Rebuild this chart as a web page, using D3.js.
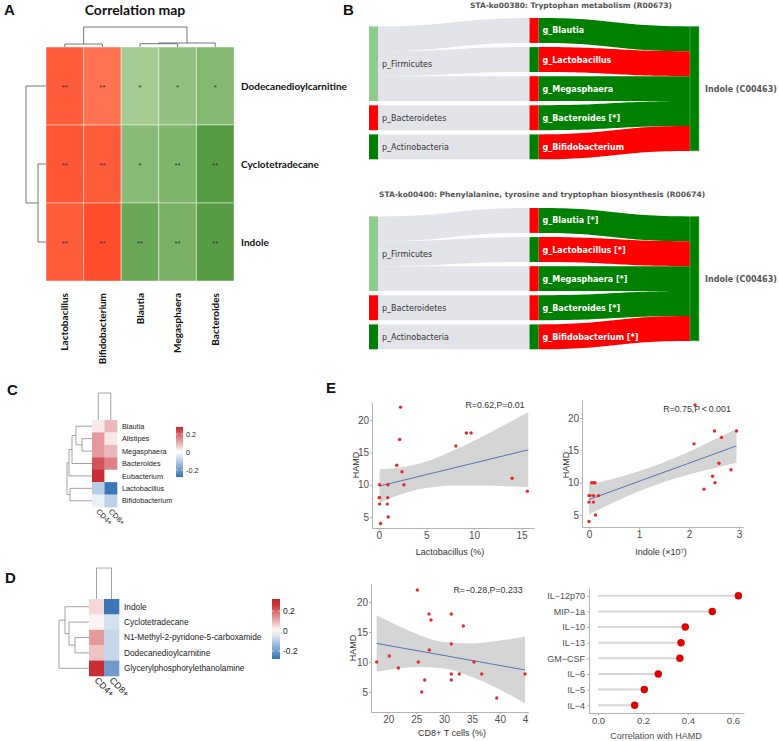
<!DOCTYPE html>
<html>
<head>
<meta charset="utf-8">
<script src="https://cdn.jsdelivr.net/npm/d3@7/dist/d3.min.js"></script>
<style>
html,body{margin:0;padding:0;background:#fff;}
svg{display:block;}
</style>
</head>
<body>
<svg id="fig" width="779" height="741"></svg>
<script>
// ================= DATA =================
// Panel A: correlation map
const aCols = ["Lactobacillus","Bifidobacterium","Blautia","Megasphaera","Bacteroides"];
const aRows = ["Dodecanedioylcarnitine","Cyclotetradecane","Indole"];
const aCorr = [
  [0.66, 0.57, -0.42, -0.50, -0.57],
  [0.68, 0.66, -0.55, -0.60, -0.80],
  [0.66, 0.72, -0.70, -0.63, -0.79]
];
const aStars = [
  ["**","**","*","*","*"],
  ["**","**","*","**","**"],
  ["**","**","**","**","**"]
];
const aRowTree = {h:20, c:[0, {h:8, c:[1,2]}]};
const aColTree = {h:20, c:[{h:3, c:[0,1]}, {h:4, c:[{h:3.3, c:[2,3]}, 4]}]};

// Panel B: sankey diagrams
const phyla = ["p_Firmicutes","p_Bacteroidetes","p_Actinobacteria"];
const phylaColor = ["#8fcc8b","#ff0000","#008000"];
const genusParent = [0,0,0,1,2];
const genusFlow = [1,1,1,1,1];
const genusNodeColor = ["#ff0000","#008000","#ff0000","#ff0000","#008000"];
const genusLinkColor = ["#008000","#ff0000","#008000","#008000","#ff0000"];
const sankeyTopTitle = "STA-ko00380: Tryptophan metabolism (R00673)";
const sankeyTopGenera = ["g_Blautia","g_Lactobacillus","g_Megasphaera","g_Bacteroides [*]","g_Bifidobacterium"];
const sankeyBotTitle = "STA-ko00400: Phenylalanine, tyrosine and tryptophan biosynthesis (R00674)";
const sankeyBotGenera = ["g_Blautia [*]","g_Lactobacillus [*]","g_Megasphaera [*]","g_Bacteroides [*]","g_Bifidobacterium [*]"];
const sankeyTarget = "Indole (C00463)";

// Panels C / D: T cell heatmaps
const tCols = ["CD4+","CD8+"];
const cRows = ["Blautia","Alistipes","Megasphaera","Bacteroides","Eubacterium","Lactobacillus","Bifidobacterium"];
const cVals = [[0.03,0.09],[0.13,0.03],[0.13,0.09],[0.22,0.16],[0.27,0.0],[-0.10,-0.27],[-0.03,-0.09]];
const cRowTree = {h:25, c:[{h:23, c:[{h:20, c:[{h:16, c:[0, {h:10, c:[1,2]}]}, 3]}, 4]}, {h:22, c:[5,6]}]};
const cColTree = {h:27, c:[0,1]};
const dRows = ["Indole","Cyclotetradecane","N1-Methyl-2-pyridone-5-carboxamide","Dodecanedioylcarnitine","Glycerylphosphorylethanolamine"];
const dVals = [[0.05,-0.27],[0.015,-0.06],[0.13,-0.08],[0.08,-0.08],[0.27,-0.20]];
const dRowTree = {h:30, c:[{h:24, c:[0, {h:20, c:[1, {h:14, c:[2,3]}]}]}, 4]};
const dColTree = {h:31, c:[0,1]};
const legendTicks = [0.2, 0, -0.2];

// Panel E: scatter plots
const lactoX = [2.3,2.2,1.9,2.45,2.65,0.98,0.1,0.1,0.05,0.95,0.1,0.9,1.0,0.2,8.1,9.2,9.7,14.0,15.6];
const lactoY = [22,17,13,12,10,10,10,8,8,8,7,7,5,4,16,18,18,11,9];
const lactoFitX = [0.1,15.7], lactoFitY = [9.8,15.4];
const lactoBandX  = [0.1,2,4,6,8,10,12,14,15.7];
const lactoBandLo = [7.2,8.34,9.22,9.7,9.88,9.89,9.83,9.72,9.6];
const lactoBandHi = [12.4,12.62,13.18,14.14,15.4,16.81,18.31,19.86,21.2];

const indoleX = [2.12,2.51,2.95,2.65,2.1,2.6,2.84,2.47,2.52,2.3,0.05,0.09,0.12,0,0.02,0.09,0.19,0,0.09,0.13,0];
const indoleY = [22,18,18,17,16,13,12,11,10,9,10,10,10,8,8,8,8,7,7,5,4];
const indoleFitX = [0,2.95], indoleFitY = [7.4,15.69];
const indoleBandX  = [0,0.5,1,1.5,2,2.5,2.95];
const indoleBandLo = [5.1,6.96,8.66,10.1,11.25,12.23,13.09];
const indoleBandHi = [9.7,10.64,11.76,13.14,14.79,16.63,18.29];

const cd8X = [17.92,20.18,21.79,25.2,25.38,25.99,26.52,27.29,27.65,27.35,31.29,31.29,31.29,31.29,32.72,33.44,35.36,36.74,39.43,44.5];
const cd8Y = [10,11,9,22,10,5,7,18,17,12,18,13,8,7,8,16,10,8,4,8];
const cd8FitX = [17.92,44.5], cd8FitY = [13.1,8.67];
const cd8BandX  = [17.92,20,25,30,35,40,44.5];
const cd8BandLo = [8.4,8.68,9.15,8.92,7.51,5.41,3.07];
const cd8BandHi = [17.8,16.84,14.73,13.32,13.09,13.57,14.27];

const cytokines = ["IL\u221212p70","MIP\u22121a","IL\u221210","IL\u221213","GM\u2212CSF","IL\u22126","IL\u22125","IL\u22124"];
const cytokineR = [0.624,0.508,0.388,0.369,0.364,0.268,0.206,0.163];

// ================= DRAWING =================
const SANS = "'Liberation Sans', Arial, sans-serif";
const svg = d3.select("#fig");
const defs = svg.append("defs");

// panel letters
[["A",4,15],["B",343,15],["C",7,395],["D",5,583],["E",326,393]].forEach(([t,x,y]) => {
  svg.append("text").attr("x",x).attr("y",y).text(t)
    .attr("font-family",SANS).attr("font-weight","bold").attr("font-size",15).attr("fill","#111");
});

function dendro(g, tree, leafPos, hPos, orient, color, width) {
  const p = d3.path();
  const pt = (pos,h) => orient === "top" ? [pos, hPos(h)] : [hPos(h), pos];
  function rec(n) {
    if (typeof n === "number") return {pos: leafPos(n), h: 0};
    const kids = n.c.map(rec);
    kids.forEach(k => { const a = pt(k.pos,k.h), b = pt(k.pos,n.h); p.moveTo(a[0],a[1]); p.lineTo(b[0],b[1]); });
    const a = pt(kids[0].pos, n.h), b = pt(kids[kids.length-1].pos, n.h);
    p.moveTo(a[0],a[1]); p.lineTo(b[0],b[1]);
    return {pos: (kids[0].pos + kids[kids.length-1].pos)/2, h: n.h};
  }
  rec(tree);
  g.append("path").attr("d", p.toString()).attr("fill","none").attr("stroke",color).attr("stroke-width",width);
}

// ---------- Panel A ----------
(function(){
  const g = svg.append("g");
  const x = d3.scaleBand().domain(aCols).range([46,234]);
  const y = d3.scaleBand().domain(aRows).range([47,281]);
  const redS = d3.scaleLinear().domain([0.5,0.75]).range(["#ff8464","#ff4624"]).clamp(true);
  const greenS = d3.scaleLinear().domain([-0.4,-0.8]).range(["#a9cd97","#559b42"]).clamp(true);
  aRows.forEach((r,i) => aCols.forEach((c,j) => {
    const v = aCorr[i][j];
    g.append("rect").attr("x",x(c)).attr("y",y(r)).attr("width",x.bandwidth()).attr("height",y.bandwidth())
      .attr("fill", v > 0 ? redS(v) : greenS(v))
      .attr("stroke","rgba(255,255,255,0.45)").attr("stroke-width",1);
    g.append("text").attr("x",x(c)+x.bandwidth()/2).attr("y",y(r)+y.bandwidth()/2+4)
      .attr("text-anchor","middle").attr("font-family",SANS).attr("font-size",8).attr("fill","#333")
      .text(aStars[i][j]);
  }));
  g.append("text").attr("x",135).attr("y",14.5).attr("text-anchor","middle")
    .attr("font-family","Lato, 'Open Sans', sans-serif").attr("font-weight","bold").attr("font-size",14).attr("fill","#111")
    .text("Correlation map");
  aRows.forEach(r => g.append("text").attr("x",241).attr("y",y(r)+y.bandwidth()/2+3.5)
    .attr("font-family","Lato, 'Open Sans', sans-serif").attr("font-weight","bold").attr("font-size",10).attr("fill","#111").text(r));
  aCols.forEach(c => g.append("text")
    .attr("transform",`translate(${x(c)+x.bandwidth()/2+3.5},293) rotate(-90)`).attr("text-anchor","end")
    .attr("font-family","Lato, 'Open Sans', sans-serif").attr("font-weight","bold").attr("font-size",10).attr("fill","#111").text(c));
  dendro(g, aColTree, j => x(aCols[j])+x.bandwidth()/2, h => 47-h, "top", "#666", 0.9);
  dendro(g, aRowTree, i => y(aRows[i])+y.bandwidth()/2, h => 46-h, "left", "#666", 0.9);
})();

// ---------- Panel B ----------
function ribbon(x0,y0,x1,y1,h) {
  const xm = (x0+x1)/2, p = d3.path();
  p.moveTo(x0,y0); p.bezierCurveTo(xm,y0,xm,y1,x1,y1);
  p.lineTo(x1,y1+h); p.bezierCurveTo(xm,y1+h,xm,y0+h,x0,y0+h); p.closePath();
  return p.toString();
}
function sankey(title, genera, y0, titleX, titleY, anchor) {
  const g = svg.append("g");
  const u = 24.9, gap = 4.2, nw = 9;
  const hv = d3.scaleLinear().domain([0,1]).range([0,u]);
  const col = d3.scalePoint().domain(["phylum","genus","target"]).range([369,690]);
  const gy = []; let acc = y0;
  genusFlow.forEach(f => { gy.push(acc); acc += hv(f) + gap; });
  const spanEnd = acc - gap;
  const ph = phyla.map((p,k) => {
    const kids = genusParent.map((par,i) => par === k ? i : -1).filter(i => i >= 0);
    const val = d3.sum(kids, i => genusFlow[i]);
    const last = kids[kids.length-1];
    const bottom = gy[last] + hv(genusFlow[last]);
    return {y: bottom - hv(val), h: hv(val), kids};
  });
  const tot = d3.sum(genusFlow);
  const ty = (y0 + spanEnd)/2 - hv(tot)/2;
  ph.forEach(p => {
    let off = p.y;
    p.kids.forEach(i => {
      g.append("path").attr("d", ribbon(col("phylum")+nw, off, col("genus"), gy[i], hv(genusFlow[i]))).attr("fill","#e2e4e9");
      off += hv(genusFlow[i]);
    });
  });
  let off = ty;
  genusFlow.forEach((f,i) => {
    g.append("path").attr("d", ribbon(col("genus")+nw, gy[i], col("target"), off, hv(f))).attr("fill", genusLinkColor[i]);
    off += hv(f);
  });
  ph.forEach((p,k) => {
    g.append("rect").attr("x",col("phylum")).attr("y",p.y).attr("width",nw).attr("height",p.h).attr("fill",phylaColor[k]);
    g.append("text").attr("x",col("phylum")+nw+4).attr("y",p.y+p.h/2+3)
      .attr("font-family","'DejaVu Sans', Verdana, sans-serif").attr("font-size",8).attr("fill","#333").text(phyla[k]);
  });
  genusFlow.forEach((f,i) => {
    g.append("rect").attr("x",col("genus")).attr("y",gy[i]).attr("width",nw).attr("height",hv(f)).attr("fill",genusNodeColor[i]);
    g.append("text").attr("x",col("genus")+nw+4).attr("y",gy[i]+hv(f)/2+3)
      .attr("font-family","'DejaVu Sans', Verdana, sans-serif").attr("font-weight","bold").attr("font-size",8).attr("fill","#fff").text(genera[i]);
  });
  g.append("rect").attr("x",col("target")).attr("y",ty).attr("width",nw).attr("height",hv(tot))
    .attr("fill","#008000").attr("stroke","#63b363").attr("stroke-width",0.6);
  g.append("text").attr("x",col("target")+nw+6).attr("y",ty+hv(tot)/2+3)
    .attr("font-family","'DejaVu Sans', Verdana, sans-serif").attr("font-weight","bold").attr("font-size",8).attr("fill","#555").text(sankeyTarget);
  g.append("text").attr("x",titleX).attr("y",titleY).attr("text-anchor",anchor)
    .attr("font-family","'DejaVu Sans', Verdana, sans-serif").attr("font-weight","bold").attr("font-size",7.5).attr("fill","#555").text(title);
}
sankey(sankeyTopTitle, sankeyTopGenera, 18, 571, 7.5, "middle");
sankey(sankeyBotTitle, sankeyBotGenera, 208, 379, 196.5, "start");

// ---------- Panels C / D ----------
const hmColor = d3.scaleDiverging(d3.piecewise(d3.interpolateRgb, ["#3672b5","#ffffff","#c5252c"])).domain([-0.28,0,0.28]).clamp(true);
function tHeatmap(rows, vals, rowTree, colTree, x0, x1, y0, y1, labFs, colFs, leg) {
  const g = svg.append("g");
  const x = d3.scaleBand().domain(tCols).range([x0,x1]);
  const y = d3.scaleBand().domain(rows).range([y0,y1]);
  rows.forEach((r,i) => tCols.forEach((c,j) => {
    g.append("rect").attr("x",x(c)).attr("y",y(r)).attr("width",x.bandwidth()+0.3).attr("height",y.bandwidth()+0.3)
      .attr("fill",hmColor(vals[i][j]));
  }));
  rows.forEach(r => g.append("text").attr("x",x1+5).attr("y",y(r)+y.bandwidth()/2+labFs*0.36)
    .attr("font-family",SANS).attr("font-size",labFs).attr("fill","#222").text(r));
  tCols.forEach(c => g.append("text")
    .attr("transform",`translate(${x(c)+x.bandwidth()/2-2.5},${y1+5}) rotate(45)`)
    .attr("font-family",SANS).attr("font-size",colFs).attr("fill","#222").text(c));
  dendro(g, rowTree, i => y(rows[i])+y.bandwidth()/2, h => x0-h, "left", "#8a8a8a", 0.8);
  dendro(g, colTree, j => x(tCols[j])+x.bandwidth()/2, h => y0-h, "top", "#8a8a8a", 0.8);
  const id = "grad" + leg.id;
  const gr = defs.append("linearGradient").attr("id",id).attr("x1",0).attr("y1",0).attr("x2",0).attr("y2",1);
  d3.range(0,1.0001,0.1).forEach(t => gr.append("stop").attr("offset",t)
    .attr("stop-color",hmColor(leg.vTop + (leg.vBot-leg.vTop)*t)));
  g.append("rect").attr("x",leg.x).attr("y",leg.y0).attr("width",leg.w).attr("height",leg.y1-leg.y0).attr("fill",`url(#${id})`);
  const ls = d3.scaleLinear().domain([leg.vTop,leg.vBot]).range([leg.y0,leg.y1]);
  legendTicks.forEach(t => {
    g.append("line").attr("x1",leg.x).attr("x2",leg.x+2).attr("y1",ls(t)).attr("y2",ls(t)).attr("stroke","#fff").attr("stroke-width",0.6);
    g.append("line").attr("x1",leg.x+leg.w-2).attr("x2",leg.x+leg.w).attr("y1",ls(t)).attr("y2",ls(t)).attr("stroke","#fff").attr("stroke-width",0.6);
    g.append("text").attr("x",leg.x+leg.w+3).attr("y",ls(t)+leg.fs*0.36)
      .attr("font-family",SANS).attr("font-size",leg.fs).attr("fill","#222").text(t === 0 ? "0" : d3.format(".1f")(t).replace("\u2212","-"));
  });
}
tHeatmap(cRows, cVals, cRowTree, cColTree, 92, 117, 420, 507, 7.3, 7.5,
  {id:"C", x:176, y0:427, y1:477, w:7, vTop:0.278, vBot:-0.278, fs:7.3});
tHeatmap(dRows, dVals, dRowTree, dColTree, 89, 119, 599, 676, 8.3, 9,
  {id:"D", x:272, y0:599, y1:659, w:8, vTop:0.32, vBot:-0.28, fs:8.5});

// ---------- Panel E ----------
function styleAxis(sel, fs) {
  sel.attr("font-family",SANS).attr("font-size",fs);
  sel.select(".domain").attr("stroke","#b3b3b3");
  sel.selectAll(".tick line").attr("stroke","#b3b3b3");
  sel.selectAll(".tick text").attr("fill","#4d4d4d");
}
function scatter(o) {
  const g = svg.append("g");
  if (o.clip) {
    defs.append("clipPath").attr("id",o.clipId).append("rect").attr("x",0).attr("y",0).attr("width",o.clip).attr("height",741);
    g.attr("clip-path",`url(#${o.clipId})`);
  }
  const x = d3.scaleLinear().domain(o.xd).range(o.xr);
  const y = d3.scaleLinear().domain(o.yd).range(o.yr);
  const area = d3.area().x((d,i) => x(o.bx[i])).y0((d,i) => y(o.blo[i])).y1((d,i) => y(o.bhi[i])).curve(d3.curveMonotoneX);
  g.append("path").datum(o.bx).attr("d",area).attr("fill","#d5d5d5");
  g.append("line").attr("x1",x(o.fx[0])).attr("y1",y(o.fy[0])).attr("x2",x(o.fx[1])).attr("y2",y(o.fy[1]))
    .attr("stroke","#4b68b8").attr("stroke-width",0.9);
  const xa = g.append("g").attr("transform",`translate(0,${o.yr[0]})`)
    .call(d3.axisBottom(x).tickValues(o.xt).tickSize(2).tickSizeOuter(0).tickPadding(2).tickFormat(d3.format("d")));
  styleAxis(xa, 10);
  const ya = g.append("g").attr("transform",`translate(${o.xr[0]},0)`)
    .call(d3.axisLeft(y).tickValues(o.yt).tickSize(2).tickSizeOuter(0).tickPadding(1).tickFormat(d3.format("d")));
  styleAxis(ya, 10);
  g.append("text").attr("x",o.annX).attr("y",o.annY).attr("text-anchor","middle")
    .attr("font-family",SANS).attr("font-size",8.8).attr("fill","#333").text(o.ann);
  g.selectAll("circle.pt").data(o.px).join("circle").attr("class","pt")
    .attr("cx",(d,i) => x(o.px[i])).attr("cy",(d,i) => y(o.py[i])).attr("r",1.7).attr("fill","#e8292b");
  g.append("text").attr("x",o.xlX).attr("y",o.xlY).attr("text-anchor","middle")
    .attr("font-family",SANS).attr("font-size",9).attr("fill","#333").text(o.xl);
  g.append("text").attr("transform",`translate(${o.ylX},${o.ylY}) rotate(-90)`).attr("text-anchor","middle")
    .attr("font-family",SANS).attr("font-size",9).attr("fill","#333").text("HAMD");
}
scatter({xd:[-0.7,16.3], xr:[372,534], yd:[3.3,22.8], yr:[528,402], xt:[0,5,10,15], yt:[5,10,15,20],
  px:lactoX, py:lactoY, fx:lactoFitX, fy:lactoFitY, bx:lactoBandX, blo:lactoBandLo, bhi:lactoBandHi,
  ann:"R=0.62,P=0.01", annX:495, annY:408, xl:"Lactobacillus (%)", xlX:450, xlY:555, ylX:359, ylY:465});
scatter({xd:[-0.14,3.08], xr:[582,743], yd:[3.15,22.78], yr:[527,400], xt:[0,1,2,3], yt:[5,10,15,20],
  px:indoleX, py:indoleY, fx:indoleFitX, fy:indoleFitY, bx:indoleBandX, blo:indoleBandLo, bhi:indoleBandHi,
  ann:"R=0.75,P\u2009<\u20090.001", annX:697, annY:412, xl:"Indole (\u00d710\u2077)", xlX:661, xlY:555, ylX:569, ylY:465});
scatter({xd:[16.9,46.0], xr:[371,533.4], yd:[1.67,23], yr:[712,584], xt:[20,25,30,35,40,45], yt:[5,10,15,20],
  px:cd8X, py:cd8Y, fx:cd8FitX, fy:cd8FitY, bx:cd8BandX, blo:cd8BandLo, bhi:cd8BandHi,
  ann:"R=\u22120.28,P=0.233", annX:488, annY:593, xl:"CD8+ T cells (%)", xlX:452, xlY:736, ylX:356, ylY:648,
  clip:528.5, clipId:"clipE3"});

// lollipop
(function(){
  const g = svg.append("g");
  const x = d3.scaleLinear().domain([-0.04,0.649]).range([589,744]);
  const y = d3.scalePoint().domain(cytokines).range([588,713]).padding(0.5);
  g.selectAll("line.seg").data(cytokines).join("line").attr("class","seg")
    .attr("x1",x(0)).attr("x2",(d,i) => x(cytokineR[i])).attr("y1",d => y(d)).attr("y2",d => y(d))
    .attr("stroke","#d6d6d6").attr("stroke-width",2);
  const xa = g.append("g").attr("transform","translate(0,713)")
    .call(d3.axisBottom(x).tickValues([0,0.2,0.4,0.6]).tickSize(2).tickSizeOuter(0).tickPadding(2).tickFormat(d3.format(".1f")));
  styleAxis(xa, 9.5);
  const ya = g.append("g").attr("transform","translate(589,0)")
    .call(d3.axisLeft(y).tickSize(2).tickSizeOuter(0).tickPadding(2));
  styleAxis(ya, 9);
  g.selectAll("circle.dot").data(cytokines).join("circle").attr("class","dot")
    .attr("cx",(d,i) => x(cytokineR[i])).attr("cy",d => y(d)).attr("r",3.7).attr("fill","#e00000");
  g.append("text").attr("x",656).attr("y",739).attr("text-anchor","middle")
    .attr("font-family",SANS).attr("font-size",9).attr("fill","#4d4d4d").text("Correlation with HAMD");
})();
</script>
</body>
</html>
